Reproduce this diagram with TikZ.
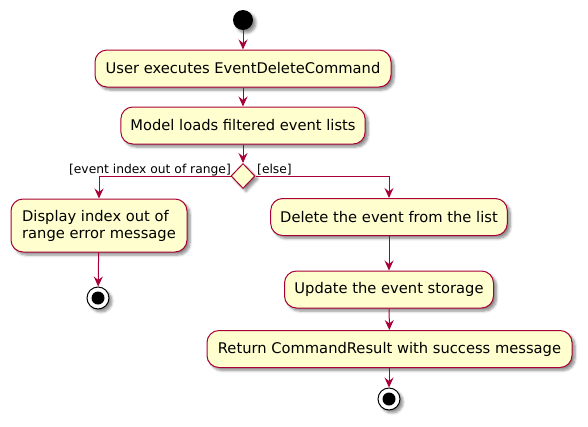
\documentclass[tikz,border=0pt]{standalone}
\usepackage{fontspec}
\setmainfont{DejaVu Sans}
\usetikzlibrary{shapes.geometric,arrows.meta,shadows.blur}
\definecolor{pfill}{HTML}{FEFECE}
\definecolor{pline}{HTML}{A80036}
\tikzset{
  shd/.style={blur shadow={shadow xshift=3pt,shadow yshift=-3pt,shadow blur steps=6,shadow opacity=45,shadow blur radius=2.5pt}},
  act/.style={draw=pline,fill=pfill,rounded corners=12pt,line width=1pt,inner xsep=9.5pt,inner ysep=0pt,minimum height=37pt,font=\fontsize{14.7}{17}\selectfont,shd},
  dec/.style={draw=pline,fill=pfill,diamond,inner sep=0pt,minimum width=24pt,minimum height=25pt,line width=1pt,shd},
  startc/.style={circle,fill=black,minimum size=20pt,inner sep=0pt,shd},
  endc/.style={circle,draw=black,fill=white,line width=1pt,minimum size=22pt,inner sep=0pt,shd},
  guard/.style={font=\fontsize{12.3}{14}\selectfont,inner sep=0pt},
  flow/.style={draw=pline,line width=1pt,-{Stealth[length=10pt,width=9pt,inset=3.5pt]}}
}
\begin{document}
\begin{tikzpicture}[x=1pt,y=-1pt]
\useasboundingbox (0,0) rectangle (588,426);
\node[startc] (s) at (243,20) {};
\node[act,minimum width=296pt] (b1) at (243,68.5) {User executes EventDeleteCommand};
\node[act,minimum width=240pt] (b2) at (243,125.5) {Model loads filtered event lists};
\node[dec] (d) at (243,176) {};
\node[act,minimum height=53pt,minimum width=176pt,align=left] (lb) at (99,225.5) {Display index out of\\range error message};
\node[endc] (e1) at (98,298) {};
\fill[black] (e1.center) circle (6.5pt);
\node[act,minimum width=236pt] (r1) at (389,217) {Delete the event from the list};
\node[act,minimum width=209pt] (r2) at (389,289.5) {Update the event storage};
\node[act,minimum width=365pt] (r3) at (389.5,349) {Return CommandResult with success message};
\node[endc] (e2) at (389,399) {};
\fill[black] (e2.center) circle (6.5pt);
\node[guard,anchor=east] (g1) at (231,170) {[event index out of range]};
\node[guard,anchor=west] (g2) at (257,170) {[else]};
\draw[flow] (s) -- (b1);
\draw[flow] (b1) -- (b2);
\draw[flow] (b2) -- (d);
\draw[flow] (d.west) -| (lb.north);
\draw[flow] (d.east) -| (r1.north);
\draw[flow] (lb) -- (e1);
\draw[flow] (r1) -- (r2);
\draw[flow] (r2) -- (r3);
\draw[flow] (r3.south -| e2) -- (e2);
\end{tikzpicture}
\end{document}
